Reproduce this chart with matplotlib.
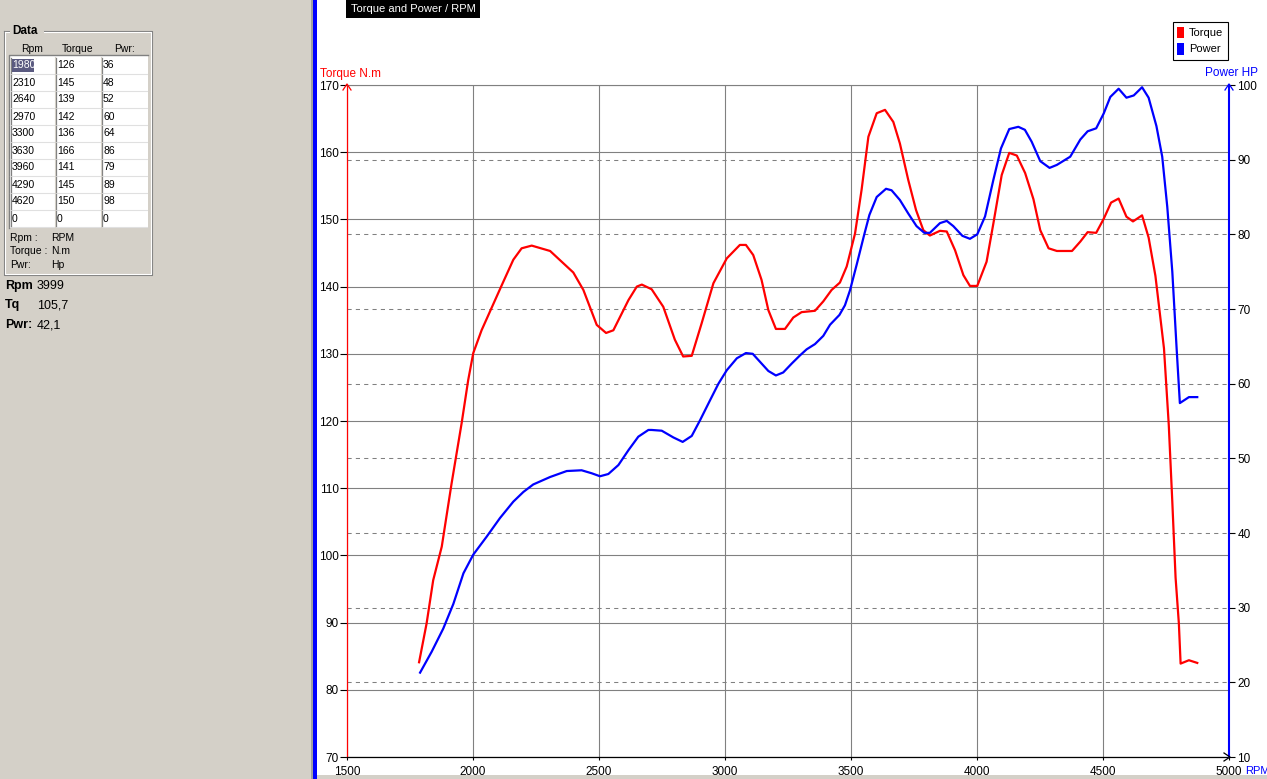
import matplotlib
matplotlib.use("Agg")
import matplotlib.pyplot as plt
import matplotlib.transforms as mtransforms
from matplotlib.patches import Rectangle
from matplotlib.lines import Line2D

# ---------------- data ----------------
torque_rpm = [1786, 1816, 1842, 1876, 1915, 1955, 1981, 2001, 2034, 2114, 2160, 2193, 2233, 2306,
              2398, 2438, 2491, 2528, 2557, 2617, 2650, 2670, 2709, 2755, 2801, 2834, 2868, 2907,
              2954, 3007, 3059, 3083, 3112, 3145, 3172, 3202, 3238, 3271, 3304, 3357, 3390, 3423,
              3456, 3483, 3516, 3542, 3569, 3602, 3635, 3668, 3694, 3727, 3758, 3787, 3813, 3853,
              3880, 3913, 3946, 3972, 4001, 4038, 4065, 4098, 4128, 4158, 4191, 4224, 4251, 4284,
              4317, 4377, 4410, 4439, 4473, 4503, 4532, 4562, 4593, 4619, 4655, 4681, 4708, 4742,
              4761, 4775, 4788, 4801, 4808, 4841, 4874]
torque_nm = [84.1, 89.9, 96.3, 101.3, 110.7, 119.7, 126.1, 130.1, 133.5, 140.2, 144.0, 145.7, 146.1, 145.3,
             142.1, 139.5, 134.3, 133.1, 133.5, 138.0, 140.0, 140.3, 139.6, 137.0, 132.1, 129.6, 129.7, 134.5,
             140.5, 144.2, 146.2, 146.2, 144.7, 141.0, 136.5, 133.7, 133.7, 135.4, 136.2, 136.4, 137.8, 139.5,
             140.6, 143.0, 147.9, 154.4, 162.3, 165.8, 166.3, 164.5, 161.3, 155.9, 151.4, 148.4, 147.6, 148.3,
             148.2, 145.4, 141.7, 140.1, 140.1, 143.7, 149.4, 156.6, 159.9, 159.5, 156.9, 153.0, 148.4, 145.7,
             145.3, 145.3, 146.7, 148.1, 148.0, 150.1, 152.5, 153.1, 150.4, 149.7, 150.6, 147.3, 141.6, 130.8,
             119.4, 108.0, 96.7, 89.9, 83.9, 84.4, 84.0]

power_rpm = [1790, 1836, 1882, 1922, 1962, 2001, 2054, 2107, 2160, 2200, 2239, 2306, 2372, 2431, 2471,
             2504, 2537, 2577, 2617, 2656, 2696, 2709, 2749, 2795, 2832, 2868, 2901, 2941, 2974, 3007,
             3047, 3083, 3110, 3145, 3172, 3202, 3231, 3265, 3298, 3324, 3357, 3390, 3417, 3454, 3476,
             3496, 3523, 3552, 3573, 3602, 3639, 3661, 3694, 3727, 3760, 3791, 3813, 3853, 3880, 3906,
             3942, 3972, 4001, 4032, 4065, 4095, 4128, 4164, 4190, 4217, 4251, 4288, 4317, 4370, 4410,
             4439, 4473, 4503, 4529, 4562, 4593, 4622, 4655, 4681, 4712, 4735, 4755, 4775, 4792, 4805,
             4841, 4874]
power_hp = [21.3, 24.1, 27.2, 30.5, 34.6, 37.1, 39.5, 42.0, 44.2, 45.5, 46.5, 47.5, 48.3, 48.4, 48.0,
            47.6, 47.9, 49.1, 51.1, 52.9, 53.8, 53.8, 53.7, 52.8, 52.2, 53.0, 55.1, 57.8, 60.0, 61.8,
            63.4, 64.1, 64.0, 62.7, 61.7, 61.1, 61.5, 62.7, 63.8, 64.6, 65.3, 66.4, 67.9, 69.2, 70.5,
            72.5, 76.0, 79.9, 82.6, 85.0, 86.1, 85.9, 84.6, 82.8, 81.1, 80.2, 80.2, 81.5, 81.8, 81.1,
            79.8, 79.4, 80.0, 82.4, 87.3, 91.5, 94.1, 94.4, 94.0, 92.4, 89.8, 88.9, 89.3, 90.4, 92.7,
            93.8, 94.2, 96.2, 98.4, 99.5, 98.3, 98.6, 99.7, 98.3, 94.5, 90.4, 83.7, 75.0, 64.8, 57.4,
            58.2, 58.2]

rpm_ticks = [1500, 2000, 2500, 3000, 3500, 4000, 4500, 5000]
torque_ticks = [70, 80, 90, 100, 110, 120, 130, 140, 150, 160, 170]
power_ticks = [10, 20, 30, 40, 50, 60, 70, 80, 90, 100]

table_header = ["Rpm", "Torque", "Pwr:"]
table_rpm = ["1980", "2310", "2640", "2970", "3300", "3630", "3960", "4290", "4620", "0"]
table_torque = ["126", "145", "139", "142", "136", "166", "141", "145", "150", "0"]
table_pwr = ["36", "48", "52", "60", "64", "86", "79", "89", "98", "0"]
unit_names = ["Rpm :", "Torque :", "Pwr:"]
unit_values = ["RPM", "N.m", "Hp"]
readout_names = ["Rpm", "Tq", "Pwr:"]
readout_values = ["3999", "105,7", "42,1"]

# ---------------- figure ----------------
W, H = 1267, 779
plt.rcParams['font.family'] = ['Liberation Sans', 'DejaVu Sans']
fig = plt.figure(figsize=(W / 100, H / 100), dpi=100)
fig.patch.set_facecolor('white')


def fx(x):
    return x / W


def fy(y):
    return 1 - y / H


def rect(x0, y0, x1, y1, **kw):
    r = Rectangle((fx(x0), fy(y1)), (x1 - x0) / W, (y1 - y0) / H,
                  transform=fig.transFigure, **kw)
    fig.add_artist(r)
    return r


def line(pts, **kw):
    l = Line2D([fx(p[0]) for p in pts], [fy(p[1]) for p in pts],
               transform=fig.transFigure, **kw)
    fig.add_artist(l)
    return l


def text(x, y, s, **kw):
    kw.setdefault('va', 'center')
    kw.setdefault('ha', 'left')
    return fig.text(fx(x), fy(y), s, **kw)


PANEL = '#d4d0c8'
# left panel
rect(0, 0, 312, H, facecolor=PANEL, edgecolor='none', zorder=0)
rect(311, 0, 313, H, facecolor='#a0a0a0', edgecolor='none', zorder=0)
rect(313, 0, 317, H, facecolor='#0000ff', edgecolor='none', zorder=0)
rect(317, 775, W, H, facecolor=PANEL, edgecolor='none', zorder=0)

# main axes
ax = fig.add_axes([fx(347), fy(757), (1229 - 347) / W, (757 - 85) / H])
ax.set_xlim(1500, 5000)
ax.set_ylim(70, 170)
ax2 = ax.twinx()
ax2.set_ylim(10, 100)

ax.set_xticks(rpm_ticks)
ax.set_yticks(torque_ticks)
ax2.set_yticks(power_ticks)
ax.set_axisbelow(True)
ax.grid(True, color='#808080', lw=0.8, linestyle='-')

blend = mtransforms.blended_transform_factory(ax.transAxes, ax2.transData)
for p in power_ticks[1:-1]:
    ax.plot([0, 1], [p, p], transform=blend, color='#808080', lw=0.75,
            linestyle=(0, (4, 4)), zorder=0.8)

ax.plot(torque_rpm, torque_nm, color='#ff0000', lw=1.6, zorder=3)
ax2.plot(power_rpm, power_hp, color='#0000ff', lw=1.6, zorder=3)

ax.spines['right'].set_visible(False)
ax.spines['left'].set_color('#ff0000')
ax.spines['left'].set_linewidth(0.9)
ax.spines['top'].set_color('#808080')
ax.spines['top'].set_linewidth(0.8)
ax.spines['bottom'].set_color('black')
ax.spines['bottom'].set_linewidth(0.9)
for s in ['left', 'top', 'bottom']:
    ax2.spines[s].set_visible(False)
ax2.spines['right'].set_color('#0000ff')
ax2.spines['right'].set_linewidth(1.5)

ax.tick_params(axis='y', length=5, width=0.8, color='black', labelsize=8.5, pad=1, labelcolor='black')
ax.tick_params(axis='x', length=2.5, width=0.8, color='black', labelsize=8.5, pad=4, labelcolor='black')
ax2.tick_params(axis='y', length=4, width=0.8, color='black', labelsize=8.5, pad=2, labelcolor='black')
ax.set_xticklabels([str(v) for v in rpm_ticks])

# arrow heads
line([(343, 90), (347, 84), (351, 90)], color='#ff0000', lw=0.9)
line([(1225, 90), (1229, 84), (1233, 90)], color='#0000ff', lw=0.9)
line([(1224, 753), (1230, 757), (1224, 761)], color='black', lw=0.9)

# axis titles
text(320, 73.5, "Torque N.m", color='#ff0000', fontsize=8.5)
text(1205, 73.5, "Power HP", color='#0000ff', fontsize=8.5)
text(1245, 770.5, "RPM", color='#0000ff', fontsize=8)

# chart title box
rect(346, 0, 480, 18, facecolor='black', edgecolor='none', zorder=5)
text(351, 8.5, "Torque and Power / RPM", color='white', fontsize=8, zorder=6)

# legend
rect(1173, 22, 1228, 60, facecolor='white', edgecolor='black', lw=0.8, zorder=5)
rect(1177, 27, 1184, 38, facecolor='#ff0000', edgecolor='none', zorder=6)
rect(1177, 43, 1184, 55, facecolor='#0000ff', edgecolor='none', zorder=6)
text(1189, 32.5, "Torque", color='black', fontsize=8, zorder=6)
text(1189, 49, "Power", color='black', fontsize=8, zorder=6)

# ---------------- left data panel ----------------
# etched group box
line([(4, 31), (4, 275), (152, 275), (152, 31), (4, 31)], color='#808080', lw=0.8, zorder=2)
line([(5, 32), (5, 274), (151, 274), (151, 32), (5, 32)], color='white', lw=0.8, zorder=2)
rect(10, 25, 44, 37, facecolor=PANEL, edgecolor='none', zorder=3)
text(12, 31, "Data", fontsize=8.5, fontweight='bold', color='black', zorder=4)

# header
col_x = [10, 55, 101, 147]
for i, h in enumerate(table_header):
    text((col_x[i] + col_x[i + 1]) / 2, 49, h, ha='center', fontsize=7.5, color='black')

# table body
rect(9, 55, 148, 228, facecolor='white', edgecolor='none', zorder=1)
line([(9, 228), (9, 55), (148, 55)], color='#808080', lw=1.0, zorder=2)
row_h = 17
top = 57
for r in range(len(table_rpm)):
    y0 = top + r * row_h
    y1 = y0 + row_h
    line([(10, y1), (147, y1)], color='#e0e0e0', lw=0.8, zorder=2)
    for c in range(3):
        line([(col_x[c] + 1, y0 + 1), (col_x[c] + 1, y1 - 1)], color='#808080', lw=0.9, zorder=2)
    yc = (y0 + y1) / 2
    if r == 0:
        rect(11.5, y0 + 2, 34, y1 - 2, facecolor='#5a5a80', edgecolor='none', zorder=2.5)
        text(12, yc, table_rpm[r], fontsize=7.5, color='white', zorder=3)
    else:
        text(12, yc, table_rpm[r], fontsize=7.5, color='black', zorder=3)
    text(57, yc, table_torque[r], fontsize=7.5, color='black', zorder=3)
    text(103, yc, table_pwr[r], fontsize=7.5, color='black', zorder=3)
for c in range(1, 3):
    line([(col_x[c], top), (col_x[c], top + row_h * len(table_rpm))], color='#d4d0c8', lw=0.8, zorder=2)

# units
unit_y = [238, 251, 265]
for n, v, y in zip(unit_names, unit_values, unit_y):
    text(10.5, y, n, fontsize=7.5, color='black')
    text(51, y, v, fontsize=7.5, color='black')

# readouts
read_y = [286, 305.5, 325]
for n, v, y in zip(readout_names, readout_values, read_y):
    text(5, y, n, fontsize=9, fontweight='bold', color='black')
    text(37, y, v, fontsize=9, color='black')

fig.savefig("out.png", dpi=100, facecolor=fig.get_facecolor())
